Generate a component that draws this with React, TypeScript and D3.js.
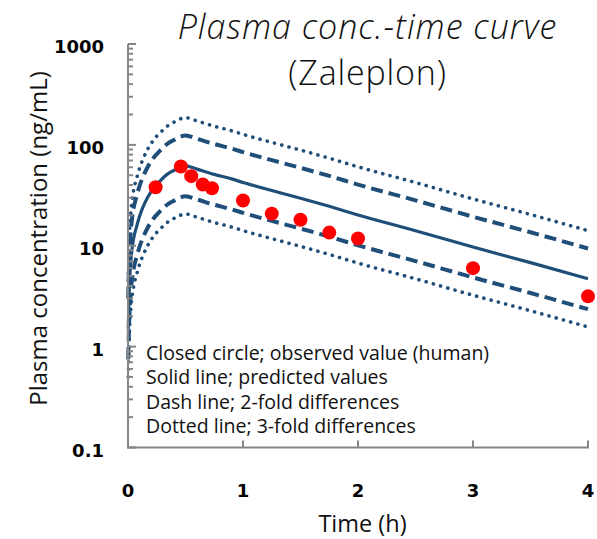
import React from "react";
import * as d3 from "d3";

// Predicted zaleplon plasma concentration profile (ng/mL) over time (h)
const predTimes = [0.002, 0.01, 0.02, 0.035, 0.05, 0.075, 0.1, 0.133, 0.17, 0.22, 0.28, 0.34, 0.4, 0.45, 0.5, 0.6, 0.75, 0.9, 1.0, 1.25, 1.5, 1.75, 2.0, 2.5, 3.0, 3.5, 4.0];
const predValues = [1.5, 3.5, 6, 9.3, 12, 15.5, 19.5, 24.5, 30, 37, 44, 51, 56, 60, 62, 57.5, 51, 46, 42.4, 35.3, 29.6, 24.6, 20.2, 14.1, 9.7, 6.8, 4.7];

// Observed human data (closed circles)
const obsTimes = [0.24, 0.46, 0.55, 0.65, 0.73, 1.0, 1.25, 1.5, 1.75, 2.0, 3.0, 4.0];
const obsValues = [38, 61, 49, 40.5, 37.2, 28.1, 20.8, 18.1, 13.5, 11.8, 6.0, 3.15];

// Fold-difference bands around the prediction
const foldBands = [
  { fold: 2, dash: "12 6", width: 4 },
  { fold: 3, dash: "0.1 7.4", width: 3.6 },
];

const xTicks = [0, 1, 2, 3, 4];
const yTicks = [0.1, 1, 10, 100, 1000];
const yTickLabels = ["0.1", "1", "10", "100", "1000"];

const legendLines = [
  "Closed circle; observed value (human)",
  "Solid line; predicted values",
  "Dash line; 2-fold differences",
  "Dotted line; 3-fold differences",
];

const W = 597;
const H = 539;
const LINE = "#1f4e79";
const AXIS = "#868686";

export default function App() {
  const x = d3.scaleLinear().domain([0, 4]).range([128, 588]);
  const y = d3.scaleLog().domain([0.1, 1000]).range([447.5, 44]);

  const pts = predTimes.map((t, i) => ({ t, v: predValues[i] }));
  const line = d3
    .line<{ t: number; v: number }>()
    .x((d) => x(d.t))
    .y((d) => y(d.v))
    .curve(d3.curveMonotoneX);

  const minorTicks: number[] = [];
  for (let dec = 0.1; dec < 1000; dec *= 10) {
    for (let k = 2; k <= 9; k++) minorTicks.push(dec * k);
  }

  const sans = "'Open Sans', 'Noto Sans', sans-serif";

  return (
    <svg
      width={W}
      height={H}
      style={{ position: "absolute", left: 0, top: 0, background: "#fff" }}
    >
      <rect width={W} height={H} fill="#fff" />

      {/* title */}
      <text x={367.5} y={38.5} textAnchor="middle" fontFamily={sans} fontStyle="italic" fontWeight={300} fontSize={34} letterSpacing={1} fill="#111">
        Plasma conc.-time curve
      </text>
      <text x={367.5} y={84.5} textAnchor="middle" fontFamily={sans} fontWeight={300} fontSize={34} letterSpacing={0.8} fill="#111">
        (Zaleplon)
      </text>

      {/* fold-difference bands */}
      {foldBands.map((b) => (
        <g key={b.fold}>
          {[b.fold, 1 / b.fold].map((f) => (
            <path
              key={f}
              d={line(pts.map((p) => ({ t: p.t, v: p.v * f }))) || ""}
              fill="none"
              stroke={LINE}
              strokeWidth={b.width}
              strokeDasharray={b.dash}
              strokeLinecap={b.fold === 3 ? "round" : "butt"}
            />
          ))}
        </g>
      ))}

      {/* predicted */}
      <path d={line(pts) || ""} fill="none" stroke={LINE} strokeWidth={3.2} />

      {/* observed */}
      {obsTimes.map((t, i) => (
        <circle key={i} cx={x(t)} cy={y(obsValues[i])} r={7} fill="#ff0000" />
      ))}

      {/* axes */}
      <g stroke={AXIS} strokeWidth={2} fill="none">
        <line x1={128} x2={128} y1={y(1000)} y2={y(0.1) + 1} />
        <line x1={127} x2={x(4) + 1} y1={y(0.1)} y2={y(0.1)} />
        {yTicks.map((v) => (
          <line key={"M" + v} x1={128} x2={136} y1={y(v)} y2={y(v)} />
        ))}
        {minorTicks.map((v, i) => (
          <line key={"m" + i} x1={128} x2={133} y1={y(v)} y2={y(v)} />
        ))}
        {xTicks.slice(1).map((t) => (
          <line key={"x" + t} x1={x(t)} x2={x(t)} y1={y(0.1)} y2={y(0.1) - 7} />
        ))}
      </g>

      {/* tick labels */}
      {yTicks.map((v, i) => (
        <text key={"yl" + v} x={104} y={y(v) + 9} textAnchor="end" fontFamily="'DejaVu Sans', sans-serif" fontWeight="bold" fontSize={18} fill="#000">
          {yTickLabels[i]}
        </text>
      ))}
      {xTicks.map((t) => (
        <text key={"xl" + t} x={x(t)} y={497} textAnchor="middle" fontFamily="'DejaVu Sans', sans-serif" fontWeight="bold" fontSize={18} fill="#000">
          {t}
        </text>
      ))}

      {/* axis titles */}
      <text x={362.5} y={531.5} textAnchor="middle" fontFamily={sans} fontSize={23.5} fill="#111">
        Time (h)
      </text>
      <text transform="translate(47,238.5) rotate(-90)" textAnchor="middle" fontFamily={sans} fontSize={24} fill="#111">
        Plasma concentration (ng/mL)
      </text>

      {/* legend notes */}
      {legendLines.map((s, i) => (
        <text key={i} x={146} y={360 + 24.4 * i} fontFamily={sans} fontSize={19.5} fill="#111">
          {s}
        </text>
      ))}
    </svg>
  );
}
